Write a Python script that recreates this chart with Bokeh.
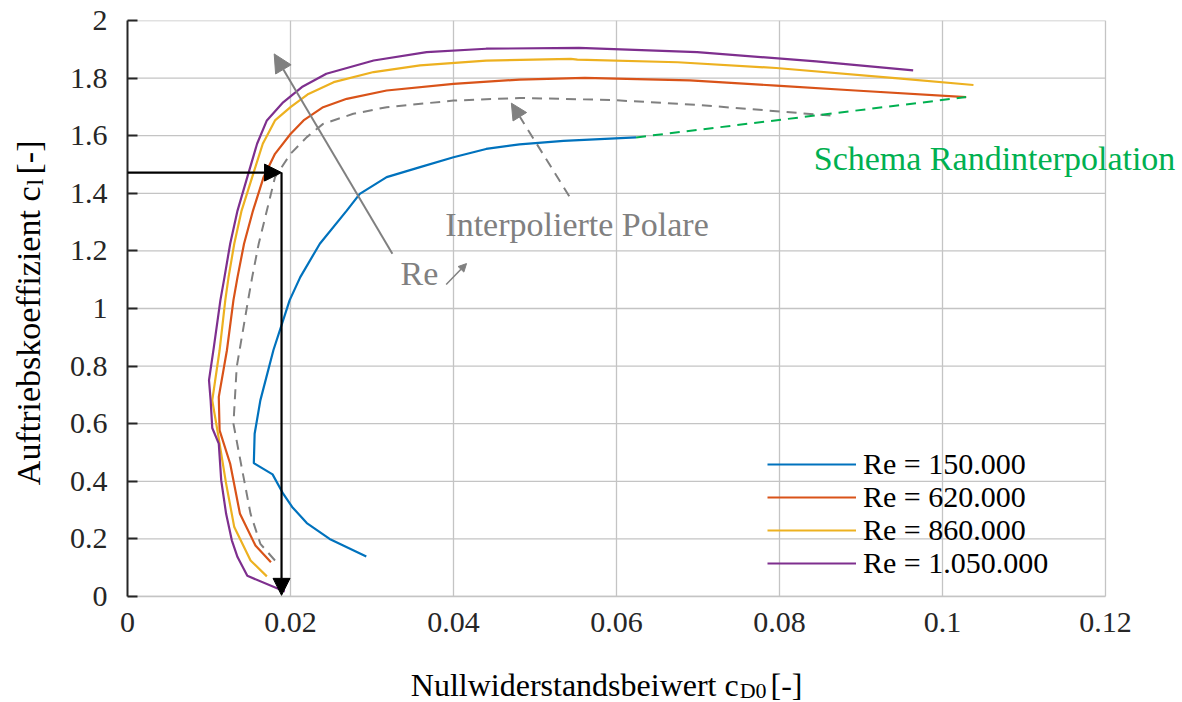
import math
from bokeh.plotting import figure
from bokeh.models import Range1d, FixedTicker, Label, Arrow, NormalHead, Legend, LegendItem
from bokeh.layouts import row, column
from bokeh.embed import file_html
from bokeh.resources import INLINE

# ---------------- data ----------------
x_ticks = [0, 0.02, 0.04, 0.06, 0.08, 0.1, 0.12]
x_tick_labels = ["0", "0.02", "0.04", "0.06", "0.08", "0.1", "0.12"]
y_ticks = [0, 0.2, 0.4, 0.6, 0.8, 1, 1.2, 1.4, 1.6, 1.8, 2]
y_tick_labels = ["0", "0.2", "0.4", "0.6", "0.8", "1", "1.2", "1.4", "1.6", "1.8", "2"]

series_names = ["Re = 150.000", "Re = 620.000", "Re = 860.000", "Re = 1.050.000"]
series_colors = ["#0072BD", "#D95319", "#EDB120", "#7E2F8E"]

cd_150 = [0.0293, 0.0248, 0.0220, 0.0202, 0.0191, 0.0178, 0.0155, 0.0156, 0.0163, 0.0179,
          0.0199, 0.0212, 0.0236, 0.0269, 0.0285, 0.0318, 0.0359, 0.0400, 0.0440, 0.0481,
          0.0535, 0.0624]
cl_150 = [0.139, 0.200, 0.255, 0.311, 0.357, 0.424, 0.463, 0.565, 0.681, 0.855,
          1.029, 1.109, 1.225, 1.340, 1.398, 1.456, 1.491, 1.525, 1.554, 1.570,
          1.582, 1.594]

cd_620 = [0.0176, 0.0157, 0.0138, 0.0126, 0.0113, 0.0112, 0.0122, 0.0130, 0.0135, 0.0143,
          0.0154, 0.0167, 0.0181, 0.0200, 0.0216, 0.0240, 0.0269, 0.0318, 0.0400, 0.0481,
          0.0561, 0.0690, 0.0796, 0.0893, 0.1029]
cl_620 = [0.119, 0.177, 0.287, 0.461, 0.577, 0.693, 0.855, 1.029, 1.109, 1.225,
          1.340, 1.456, 1.537, 1.606, 1.653, 1.699, 1.728, 1.757, 1.780, 1.795,
          1.801, 1.792, 1.774, 1.757, 1.734]

cd_860 = [0.0171, 0.0151, 0.0131, 0.0121, 0.0111, 0.0104, 0.0113, 0.0120, 0.0124, 0.0131,
          0.0140, 0.0153, 0.0166, 0.0181, 0.0200, 0.0222, 0.0253, 0.0302, 0.0359, 0.0440,
          0.0544, 0.0552, 0.0675, 0.0796, 0.0942, 0.1038]
cl_860 = [0.070, 0.125, 0.241, 0.392, 0.565, 0.681, 0.855, 1.029, 1.109, 1.225,
          1.340, 1.456, 1.572, 1.653, 1.699, 1.745, 1.786, 1.821, 1.844, 1.861,
          1.867, 1.864, 1.855, 1.835, 1.800, 1.776]

cd_1050 = [0.0193, 0.0147, 0.0135, 0.0128, 0.0121, 0.0115, 0.0112, 0.0104, 0.0102, 0.0100,
           0.0106, 0.0114, 0.0119, 0.0126, 0.0135, 0.0147, 0.0159, 0.0171, 0.0191, 0.0214,
           0.0244, 0.0302, 0.0367, 0.0440, 0.0554, 0.0699, 0.0845, 0.0964]
cl_1050 = [0.017, 0.072, 0.137, 0.195, 0.287, 0.403, 0.531, 0.585, 0.681, 0.751,
           0.867, 1.029, 1.109, 1.225, 1.340, 1.456, 1.572, 1.653, 1.716, 1.769,
           1.815, 1.861, 1.890, 1.902, 1.905, 1.890, 1.858, 1.827]

cd_interp = [0.0181, 0.0163, 0.0151, 0.0140, 0.0130, 0.0134, 0.0148, 0.0153, 0.0161, 0.0171,
             0.0181, 0.0200, 0.0220, 0.0240, 0.0277, 0.0318, 0.0400, 0.0481, 0.0593, 0.0699,
             0.0867]
cl_interp = [0.125, 0.183, 0.287, 0.450, 0.600, 0.797, 1.029, 1.109, 1.225, 1.340,
             1.456, 1.537, 1.595, 1.641, 1.676, 1.699, 1.722, 1.731, 1.724, 1.707,
             1.669]

cd_edge = [0.0624, 0.1029]
cl_edge = [1.594, 1.734]

# annotation arrows: (x_start, y_start, x_end, y_end)
arrow_h = (0.0, 1.472, 0.0189, 1.472)
arrow_v = (0.0189, 1.472, 0.0189, 0.004)
arrow_re = (0.0325, 1.190, 0.0180, 1.884)
arrow_re_small = (0.0391, 1.083, 0.0416, 1.156)
arrow_interp = (0.0542, 1.390, 0.0471, 1.713)

FONT = "Liberation Serif"
GRAY = "#808080"
GREEN = "#00B050"
DARK = "#262626"
GRID = "#c4c4c4"
TXT = "34px"
SUB = "24px"

# ---------------- layout geometry (page pixels) ----------------
PAGE_W, PAGE_H = 1180, 702
LEFT_W = 55
MAIN_H = 650
FRAME_L, FRAME_T, FRAME_B = 127, 20, 596
X_MAX = 0.12
PX_PER_X = 978 / X_MAX           # 0.12 spans 978 px
x_end = X_MAX + (PAGE_W - 1105) / PX_PER_X   # frame extends right for the text

main_w = PAGE_W - LEFT_W
p = figure(width=main_w, height=MAIN_H, x_range=Range1d(0, x_end), y_range=Range1d(0, 2),
           output_backend="svg", toolbar_location=None,
           min_border_left=FRAME_L - LEFT_W, min_border_right=0,
           min_border_top=FRAME_T, min_border_bottom=MAIN_H - FRAME_B)

p.background_fill_color = "white"
p.border_fill_color = "white"
p.outline_line_color = None

p.xaxis.ticker = FixedTicker(ticks=x_ticks)
p.yaxis.ticker = FixedTicker(ticks=y_ticks)
p.xgrid.ticker = FixedTicker(ticks=x_ticks)
p.xaxis.major_label_overrides = dict(zip(x_ticks, x_tick_labels))
p.yaxis.major_label_overrides = dict(zip(y_ticks, y_tick_labels))

p.xgrid.grid_line_color = GRID
p.xgrid.grid_line_width = 1.3
p.ygrid.visible = False
# horizontal grid lines limited to the axes box (frame extends right for the label)
p.segment(x0=[0] * len(y_ticks), y0=y_ticks, x1=[X_MAX] * len(y_ticks), y1=y_ticks,
          line_color=GRID, line_width=1.3)

for ax in (p.xaxis, p.yaxis):
    ax.major_label_text_font = FONT
    ax.major_label_text_font_size = "30px"
    ax.major_label_text_color = DARK
    ax.minor_tick_line_color = None

p.xaxis.bounds = (0, X_MAX)
p.xaxis.axis_line_color = GRID
p.xaxis.axis_line_width = 1.3
p.xaxis.major_tick_line_color = None
p.xaxis.major_label_standoff = 10

p.yaxis.axis_line_color = DARK
p.yaxis.axis_line_width = 2
p.yaxis.major_tick_line_color = DARK
p.yaxis.major_tick_line_width = 2
p.yaxis.major_tick_in = 10
p.yaxis.major_tick_out = 0
p.yaxis.major_label_standoff = 20

# curves
all_cd = [cd_150, cd_620, cd_860, cd_1050]
all_cl = [cl_150, cl_620, cl_860, cl_1050]
curve_renderers = []
for cd, cl, col in zip(all_cd, all_cl, series_colors):
    curve_renderers.append(p.line(cd, cl, line_color=col, line_width=2.2))

p.line(cd_interp, cl_interp, line_color=GRAY, line_width=2, line_dash="10 7")
p.line(cd_edge, cl_edge, line_color=GREEN, line_width=2, line_dash="10 7")

# arrows
def add_arrow(fig, coords, color, size, width, dash="solid"):
    xs, ys, xe, ye = coords
    fig.add_layout(Arrow(end=NormalHead(size=size, fill_color=color, line_color=color),
                         x_start=xs, y_start=ys, x_end=xe, y_end=ye,
                         line_color=color, line_width=width, line_dash=dash))

add_arrow(p, arrow_h, "black", 17, 2.2)
add_arrow(p, arrow_v, "black", 17, 2.2)
add_arrow(p, arrow_re, GRAY, 18, 2)
add_arrow(p, arrow_re_small, GRAY, 8, 1.5)
add_arrow(p, arrow_interp, GRAY, 16, 2, "10 7")

def add_text(fig, x, y, text, color, size=TXT, align="left", baseline="middle", angle=0.0):
    fig.add_layout(Label(x=x, y=y, text=text, text_font=FONT, text_font_size=size,
                         text_color=color, text_align=align, text_baseline=baseline,
                         angle=angle))

add_text(p, 0.0842, 1.521, "Schema Randinterpolation", GREEN)
add_text(p, 0.0390, 1.292, "Interpolierte Polare", GRAY)
add_text(p, 0.0335, 1.122, "Re", GRAY)

# legend: one row per entry, rows 33 px apart
ROW_STEP = 33
n = len(series_names)
for k, (name, r) in enumerate(zip(series_names, curve_renderers)):
    lg = Legend(items=[LegendItem(label=name, renderers=[r])],
                location=(640, 16 + ROW_STEP * (n - 1 - k)),
                padding=0, margin=0, spacing=0,
                glyph_width=89, glyph_height=32, label_height=32, label_standoff=7,
                label_text_font=FONT, label_text_font_size="30px", label_text_color="black",
                background_fill_alpha=0, border_line_alpha=0)
    p.add_layout(lg)

# ---------------- axis titles (with subscripts) in side strips ----------------
def blank(width, height, xr, yr):
    f = figure(width=width, height=height, x_range=xr, y_range=yr,
               output_backend="svg", toolbar_location=None,
               x_axis_type=None, y_axis_type=None,
               min_border_left=0, min_border_right=0, min_border_top=0, min_border_bottom=0)
    f.outline_line_color = None
    f.grid.visible = False
    f.background_fill_color = "white"
    f.border_fill_color = "white"
    return f

# bottom strip: coordinates are page pixels (y downward)
bot = blank(main_w, PAGE_H - MAIN_H, Range1d(LEFT_W, PAGE_W), Range1d(PAGE_H, MAIN_H))
add_text(bot, 708, 684, "Nullwiderstandsbeiwert c", "black", size="32px", align="right")
add_text(bot, 709, 690, "D0", "black", size="22px")
add_text(bot, 742, 684, "[-]", "black", size="32px")

# left strip: coordinates are page pixels (y downward)
lft = blank(LEFT_W, PAGE_H, Range1d(0, LEFT_W), Range1d(PAGE_H, 0))
add_text(lft, 28, 186, "Auftriebskoeffizient c", "black", align="right", angle=math.pi / 2)
add_text(lft, 34, 185, "l", "black", size=SUB, angle=math.pi / 2)
add_text(lft, 28, 174, "[-]", "black", angle=math.pi / 2)

layout = row(lft, column(p, bot))
open("out.html", "w").write(file_html(layout, INLINE))
